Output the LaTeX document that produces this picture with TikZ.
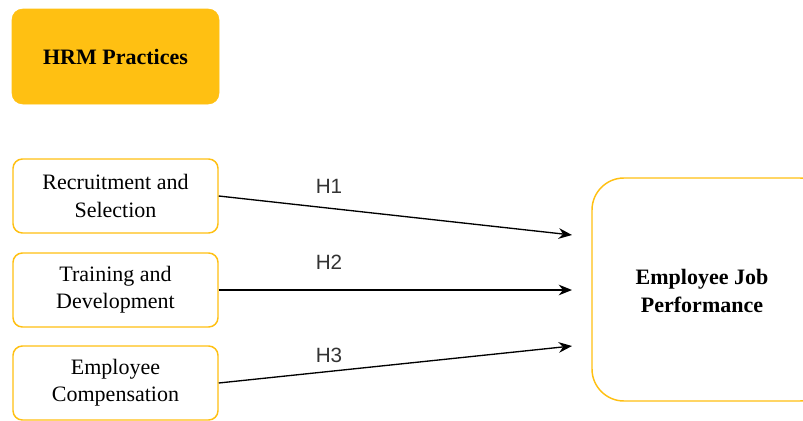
\documentclass[tikz,border=0pt]{standalone}
\usepackage{fontspec}
\setmainfont{Liberation Serif}
\setsansfont{Liberation Sans}
\usetikzlibrary{arrows.meta}
\definecolor{hrmyellow}{HTML}{FFC012}
\definecolor{lblgray}{HTML}{333333}
\tikzset{
  px/.style={x=0.75pt,y=-0.75pt},
  smallbox/.style={draw=hrmyellow,line width=1.1pt,rounded corners=7pt,fill=white,
    minimum width=153.75pt,minimum height=55.5pt,align=center,inner sep=0pt,
    font=\fontsize{16.5pt}{20.5pt}\selectfont},
  hrmbox/.style={draw=hrmyellow,fill=hrmyellow,rounded corners=8pt,
    minimum width=155.25pt,minimum height=71.25pt,align=center,inner sep=0pt,
    font=\bfseries\fontsize{16.5pt}{20pt}\selectfont},
  bigbox/.style={draw=hrmyellow,line width=1.1pt,rounded corners=24pt,fill=white,
    minimum width=180pt,minimum height=167.25pt,align=center,inner sep=0pt},
  bigtext/.style={font=\bfseries\fontsize{16.5pt}{21pt}\selectfont,align=center,inner sep=0pt},
  arr/.style={-{Stealth[length=10pt,width=8pt]},line width=1pt,black},
  hlbl/.style={font=\sffamily\fontsize{15.5pt}{18pt}\selectfont,text=lblgray,inner sep=0pt}
}
\begin{document}
\begin{tikzpicture}[px]
\useasboundingbox (0,0) rectangle (803,421);
\begin{scope}
\clip (0,0) rectangle (803,421);
\node[hrmbox] (hrm) at (115.5,56.5) {HRM Practices};
\node[smallbox] (rs) at (115.5,196) {Recruitment and\\Selection};
\node[smallbox] (td) at (115.5,290) {Training and\\Development};
\node[smallbox] (ec) at (115.5,383) {Employee\\Compensation};
\node[bigbox] (ejp) at (712,289.5) {};
\node[bigtext] (ejpt) at (702,291) {Employee Job\\Performance};
\coordinate (t1) at (572,235);
\coordinate (t2) at (572,290);
\coordinate (t3) at (572,346);
\draw[arr] (rs.east) -- (t1);
\draw[arr] (td.east) -- (t2);
\draw[arr] (ec.east) -- (t3);
\node[hlbl] (h1) at (329,186) {H1};
\node[hlbl] (h2) at (329,262) {H2};
\node[hlbl] (h3) at (329,355) {H3};
\end{scope}
\end{tikzpicture}
\end{document}
